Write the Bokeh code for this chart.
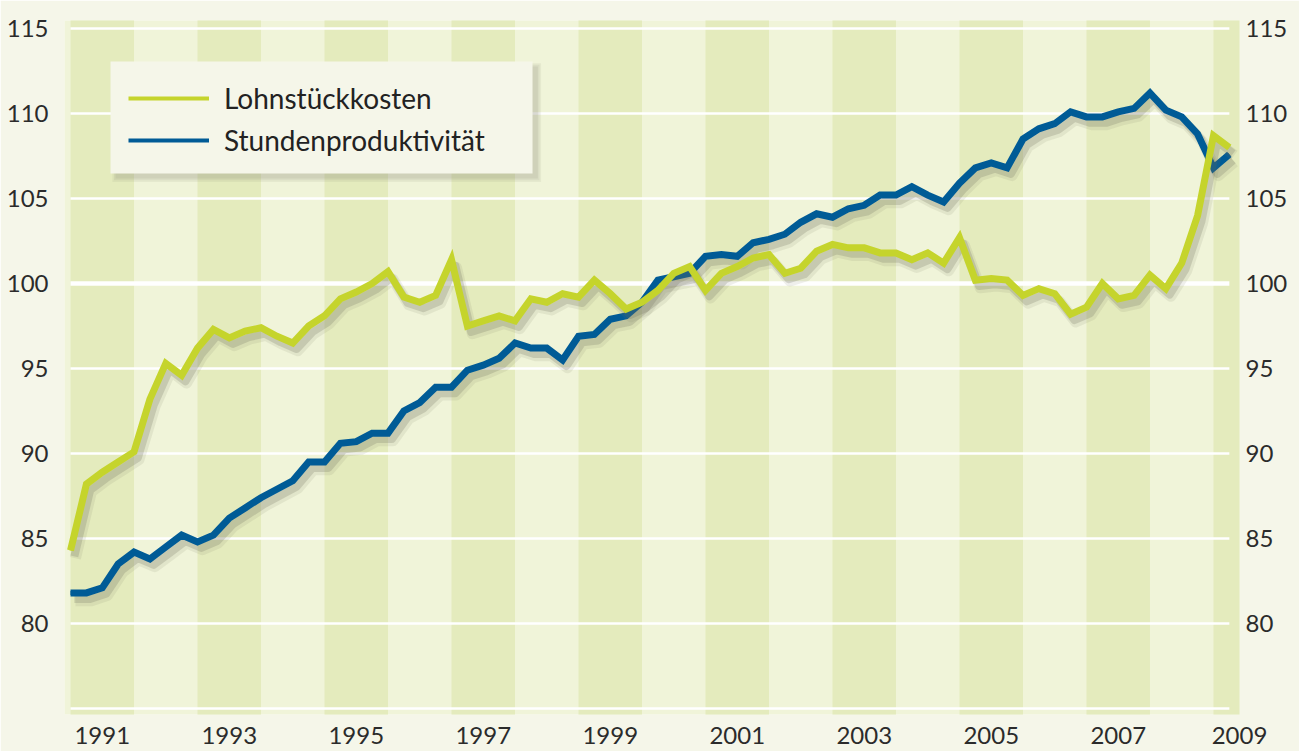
import numpy as np
from bokeh.plotting import figure
from bokeh.models import (Range1d, LinearAxis, FixedTicker, CustomJSTickFormatter,
                          Legend, LegendItem, BoxAnnotation)
from bokeh.embed import file_html
from bokeh.resources import INLINE

# ---------------- data (quarterly, 1991 Q1 - 2009 Q2) ----------------
start_year = 1991
lohnstueckkosten = [
    84.3, 88.2, 88.9, 89.5, 90.1, 93.2, 95.3, 94.6, 96.2, 97.3,
    96.8, 97.2, 97.4, 96.9, 96.5, 97.5, 98.1, 99.1, 99.5, 100.0,
    100.7, 99.2, 98.9, 99.3, 101.4, 97.5, 97.8, 98.1, 97.8, 99.1,
    98.9, 99.4, 99.2, 100.2, 99.4, 98.5, 98.9, 99.6, 100.6, 101.0,
    99.6, 100.6, 101.0, 101.5, 101.7, 100.6, 100.9, 101.9, 102.3, 102.1,
    102.1, 101.8, 101.8, 101.4, 101.8, 101.2, 102.7, 100.2, 100.3, 100.2,
    99.3, 99.7, 99.4, 98.2, 98.6, 100.0, 99.1, 99.3, 100.5, 99.7,
    101.2, 104.0, 108.7, 108.0,
]
stundenproduktivitaet = [
    81.8, 81.8, 82.1, 83.5, 84.2, 83.8, 84.5, 85.2, 84.8, 85.2,
    86.2, 86.8, 87.4, 87.9, 88.4, 89.5, 89.5, 90.6, 90.7, 91.2,
    91.2, 92.5, 93.0, 93.9, 93.9, 94.9, 95.2, 95.6, 96.5, 96.2,
    96.2, 95.5, 96.9, 97.0, 97.9, 98.1, 98.9, 100.2, 100.4, 100.6,
    101.6, 101.7, 101.6, 102.4, 102.6, 102.9, 103.6, 104.1, 103.9, 104.4,
    104.6, 105.2, 105.2, 105.7, 105.2, 104.8, 105.9, 106.8, 107.1, 106.8,
    108.5, 109.1, 109.4, 110.1, 109.8, 109.8, 110.1, 110.3, 111.2, 110.2,
    109.8, 108.8, 106.8, 107.6,
]
year_labels = [1991, 1993, 1995, 1997, 1999, 2001, 2003, 2005, 2007, 2009]
y_tick_values = [80, 85, 90, 95, 100, 105, 110, 115]
grid_levels = [75, 80, 85, 90, 95, 100, 105, 110, 115]
series_names = ["Lohnstückkosten", "Stundenproduktivität"]

# ---------------- styling ----------------
PAGE_BG = "#f5f6e9"
BAND_DARK = "#e4ebbd"
BAND_LIGHT = "#f0f4d9"
GREEN = "#c5d42c"
BLUE = "#005b96"
TEXT = "#2b2b2b"
FONT = "Lato"

x_start, x_end = 1990.905, 2009.41
y_start, y_end = 74.65, 115.47

n = len(lohnstueckkosten)
xq = np.array([start_year + i / 4 for i in range(n)])
lohn = np.array(lohnstueckkosten)
stunde = np.array(stundenproduktivitaet)

p = figure(width=1299, height=751, output_backend="svg", toolbar_location=None,
           x_range=Range1d(x_start, x_end), y_range=Range1d(y_start, y_end),
           min_border_left=64, min_border_right=60, min_border_top=20,
           min_border_bottom=37)
p.background_fill_color = BAND_LIGHT
p.border_fill_color = PAGE_BG
p.outline_line_color = None
p.xgrid.visible = False
p.ygrid.visible = False

# alternating year bands
band_years = np.array(year_labels, dtype=float)
p.quad(left=band_years, right=band_years + 1, bottom=y_start - 5, top=y_end + 5,
       fill_color=BAND_DARK, line_color=None)

# white gridlines
widths = [4.5 if g == 100 else 2.5 for g in grid_levels]
p.segment(x0=[xq[0]] * len(grid_levels), x1=[xq[-1]] * len(grid_levels),
          y0=grid_levels, y1=grid_levels, line_color="white", line_width=widths)

# lines with soft shadows (thin copies underneath serve as legend samples)
dx, dy = 0.06, -0.35
legend_renderers = []
for vals, col in ((stunde, BLUE), (lohn, GREEN)):
    p.line(xq + dx * 1.3, vals + dy * 1.3, line_color="#7a7a60", line_alpha=0.12,
           line_width=11, line_join="round")
    p.line(xq + dx, vals + dy, line_color="#6b6b55", line_alpha=0.22,
           line_width=8, line_join="round")
    legend_renderers.append(p.line(xq, vals, line_color=col, line_width=4))
    p.line(xq, vals, line_color=col, line_width=7, line_join="miter")
leg_b, leg_g = legend_renderers

# legend box with shadow
for i, a in enumerate((0.10, 0.12, 0.14)):
    o = 0.025 * (2 - i)
    p.add_layout(BoxAnnotation(left=1991.71 - o, right=1998.36 + o,
                               top=112.76 + o * 4, bottom=106.17 - o * 4,
                               fill_color="#8c8c78", fill_alpha=a, line_color=None))
p.add_layout(BoxAnnotation(left=1991.63, right=1998.276, top=113.06, bottom=106.47,
                           fill_color=PAGE_BG, fill_alpha=1.0, line_color=None))

legend = Legend(items=[LegendItem(label=series_names[0], renderers=[leg_g]),
                       LegendItem(label=series_names[1], renderers=[leg_b])],
                location=(64, 557), background_fill_alpha=0.0,
                border_line_color=None, padding=0, spacing=8,
                glyph_width=81, glyph_height=20, label_standoff=15,
                label_height=32, label_text_font=FONT, label_text_font_size="28px",
                label_text_color="#222222", margin=0)
p.add_layout(legend, "center")

# axes
xticks = [min(yl + 0.5, x_end) for yl in year_labels]
xa = p.xaxis[0]
xa.ticker = FixedTicker(ticks=xticks)
xa.formatter = CustomJSTickFormatter(code="return String(Math.floor(tick));")
yax = p.yaxis[0]
yax.ticker = FixedTicker(ticks=y_tick_values)
right_axis = LinearAxis(ticker=FixedTicker(ticks=y_tick_values))
p.add_layout(right_axis, "right")

for ax in (xa, yax, right_axis):
    ax.axis_line_color = None
    ax.major_tick_line_color = None
    ax.minor_tick_line_color = None
    ax.major_tick_out = 0
    ax.major_tick_in = 0
    ax.minor_tick_out = 0
    ax.minor_tick_in = 0
    ax.major_label_text_font = FONT
    ax.major_label_text_font_size = "24px"
    ax.major_label_text_color = TEXT
xa.major_label_standoff = 12
yax.major_label_standoff = 16
right_axis.major_label_standoff = 6

html = file_html(p, INLINE)
html = html.replace("<body>", '<body style="background:%s">' % PAGE_BG, 1)
open("out.html", "w").write(html)
